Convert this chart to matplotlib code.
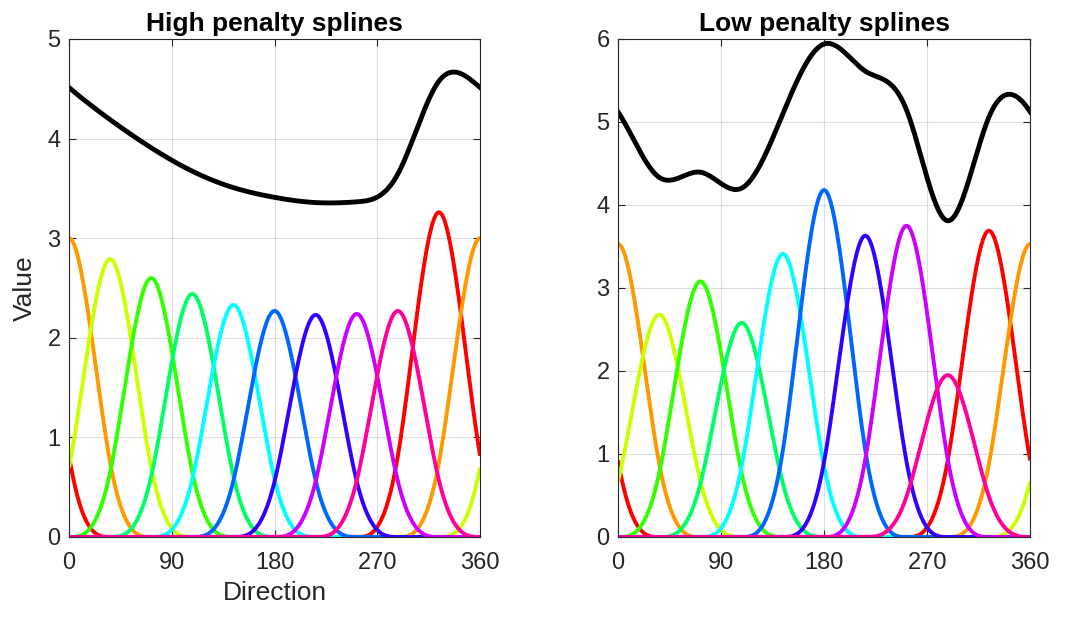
import colorsys
import numpy as np
import matplotlib
matplotlib.use('Agg')
import matplotlib.pyplot as plt

plt.rcParams['font.family'] = ['Liberation Sans', 'DejaVu Sans']

# centros de las 10 bases ciclicas (grados)
centros = [324, 0, 36, 72, 108, 144, 180, 216, 252, 288]
# altura del pico de cada base
picos_alta = [3.26, 3.00, 2.79, 2.60, 2.44, 2.33, 2.27, 2.23, 2.24, 2.27]
picos_baja = [3.69, 3.53, 2.68, 3.08, 2.58, 3.41, 4.18, 3.63, 3.75, 1.95]
titulos = ['High penalty splines', 'Low penalty splines']
ylims = [5, 6]
xticks = [0, 90, 180, 270, 360]
espaciado = 36

x = np.linspace(0, 360, 1441)


def base(xx, c):
    # B-spline cubico ciclico, normalizado a pico 1
    d = np.abs((xx - c + 180) % 360 - 180) / espaciado
    b = np.where(d < 1, 2/3 - d**2 + d**3 / 2, np.where(d < 2, (2 - d)**3 / 6, 0))
    return b / (2/3)


colores = [colorsys.hsv_to_rgb(k / 10, 1, 1) for k in range(10)]

fig = plt.figure(figsize=(10.65, 6.19), dpi=100)
posiciones = [[0.0648, 0.1325, 0.386, 0.8045], [0.5803, 0.1325, 0.387, 0.8045]]
gris = (0.15, 0.15, 0.15)

for i, picos in enumerate([picos_alta, picos_baja]):
    ax = fig.add_axes(posiciones[i])
    total = np.zeros_like(x)
    for k in range(10):
        y = picos[k] * base(x, centros[k])
        total += y
        ax.plot(x, y, color=colores[k], lw=2.8, solid_capstyle='butt')
    ax.plot(x, total, color='k', lw=3.5)
    ax.set_xlim(0, 360)
    ax.set_ylim(0, ylims[i])
    ax.set_xticks(xticks)
    ax.set_yticks(range(ylims[i] + 1))
    ax.grid(True, color=gris, alpha=0.15, lw=0.8)
    ax.tick_params(direction='in', top=True, right=True, labelsize=17,
                   colors=gris, length=5, width=0.8, pad=6)
    ax.tick_params(axis='x', pad=11)
    for s in ax.spines.values():
        s.set_color(gris)
        s.set_linewidth(0.8)
    ax.set_title(titulos[i], fontsize=19, fontweight='bold', pad=6)
    if i == 0:
        ax.set_xlabel('Direction', fontsize=19, color=gris, labelpad=5)
        ax.set_ylabel('Value', fontsize=19, color=gris, labelpad=8)

fig.savefig('out.png', dpi=100)
